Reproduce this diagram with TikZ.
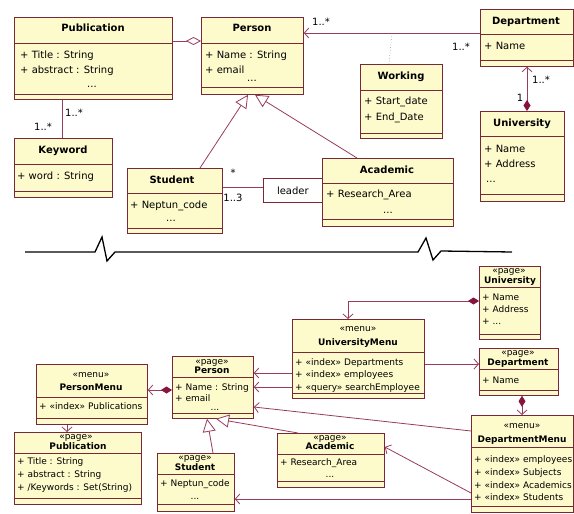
\documentclass[tikz,border=0pt]{standalone}
\usepackage{fontspec}
\setmainfont{DejaVu Sans}
\usetikzlibrary{arrows.meta}
\definecolor{boxfill}{RGB}{253,250,204}
\definecolor{boxline}{RGB}{120,40,55}
\definecolor{conncol}{RGB}{150,60,95}
\definecolor{diamcol}{RGB}{135,20,60}
\tikzset{
  clsbox/.style={draw=boxline, fill=boxfill, line width=0.8pt, inner sep=0pt, anchor=north west},
  divline/.style={draw=boxline, line width=0.8pt},
  ta/.style={anchor=west, inner sep=0pt, text height=7pt, text depth=2pt, font=\fontsize{10}{12}\selectfont},
  tc/.style={anchor=center, inner sep=0pt, text height=7pt, text depth=2pt, font=\fontsize{10}{12}\selectfont},
  tt/.style={anchor=center, inner sep=0pt, text height=7pt, text depth=2pt, font=\fontsize{10}{12}\selectfont\bfseries},
  ba/.style={anchor=west, inner sep=0pt, text height=6.5pt, text depth=2pt, font=\fontsize{9}{11}\selectfont},
  bc/.style={anchor=center, inner sep=0pt, text height=6.5pt, text depth=2pt, font=\fontsize{9}{11}\selectfont},
  bdots/.style={anchor=center, inner sep=0pt, text height=3pt, text depth=0pt, font=\fontsize{9}{11}\selectfont},
  bt/.style={anchor=center, inner sep=0pt, text height=6.5pt, text depth=2pt, font=\fontsize{9}{11}\selectfont\bfseries},
  lbl/.style={anchor=center, inner sep=0pt, font=\fontsize{10}{12}\selectfont},
  cline/.style={draw=conncol, line width=0.8pt},
  openarr/.style={-{Straight Barb[length=4.5pt,width=10pt]}},
  gen/.style={-{Triangle[open, fill=white, length=13pt, width=13pt]}},
  aggr/.style={-{Diamond[open, fill=white, length=15pt, width=8pt]}},
  compopen/.style={{Diamond[length=11pt,width=7pt,color=diamcol]}-{Straight Barb[length=4.5pt,width=10pt]}},
}
\newcommand\umlcls[7]{%
  \node[clsbox, minimum width={(#4-#2)*1pt}, minimum height={(#5-#3)*1pt}] (#1) at (#2,#3) {};
  \draw[divline] (#2,#6) -- (#4,#6);
  \draw[divline] (#2,#7) -- (#4,#7);}
\begin{document}
\begin{tikzpicture}[x=1pt, y=-1pt]
\fill[white] (0,0) rectangle (574,514);
\useasboundingbox (0,0) rectangle (574,514);

% ---------------- top diagram ----------------
\umlcls{pub}{14}{17}{172}{99}{43}{94}
\node[tt] (pubT) at (93,29) {Publication};
\node[ta] (pubA1) at (20,56) {+ Title : String};
\node[ta] (pubA2) at (20,71) {+ abstract : String};
\node[tc] (pubA3) at (92,85) {...};

\umlcls{per}{201}{17}{303}{94}{43}{87}
\node[tt] (perT) at (252,29) {Person};
\node[ta] (perA1) at (205,56) {+ Name : String};
\node[ta] (perA2) at (205,71) {+ email};
\node[tc] (perA3) at (252,79) {...};

\umlcls{kw}{14}{138}{112}{197}{164}{191}
\node[tt] (kwT) at (63,151) {Keyword};
\node[ta] (kwA1) at (17,177) {+ word : String};

\umlcls{stu}{127}{168}{222}{233}{193}{228}
\node[tt] (stuT) at (172,181) {Student};
\node[ta] (stuA1) at (130,206) {+ Neptun\_code};
\node[tc] (stuA2) at (171,219) {...};

\node[draw=boxline, fill=white, line width=0.8pt, anchor=north west, minimum width=59pt, minimum height=24pt, inner sep=0pt, font=\fontsize{10}{12}\selectfont] (lead) at (263,178) {leader};

\umlcls{aca}{322}{158}{453}{226}{183}{219}
\node[tt] (acaT) at (387,171) {Academic};
\node[ta] (acaA1) at (326,195) {+ Research\_Area};
\node[tc] (acaA2) at (388,211) {...};

\umlcls{wrk}{360}{64}{442}{138}{90}{133}
\node[tt] (wrkT) at (401,77) {Working};
\node[ta] (wrkA1) at (364,102) {+ Start\_date};
\node[ta] (wrkA2) at (364,118) {+ End\_Date};

\umlcls{dep}{480}{9}{573}{66}{34}{60}
\node[tt] (depT) at (526,22) {Department};
\node[ta] (depA1) at (484,47) {+ Name};

\umlcls{uni}{480}{111}{564}{201}{136}{194}
\node[tt] (uniT) at (522,124) {University};
\node[ta] (uniA1) at (484,150) {+ Name};
\node[ta] (uniA2) at (484,165) {+ Address};
\node[ta] (uniA3) at (486,180) {...};

% top connectors
\draw[cline, aggr] (pub.east |- 0,41) -- (per.west |- 0,41);
\draw[cline] (pub.south -| 62,0) -- (kw.north -| 62,0);
\node[lbl] (l1) at (74,113) {1..*};
\node[lbl] (l2) at (43,127) {1..*};
\draw[cline, gen] (stu.north -| 200,0) -- (per.south -| 248,0);
\draw[cline, gen] (aca.north -| 357,0) -- (per.south -| 255,0);
\draw[cline] (stu.east |- 0,187) -- (lead.west |- 0,187);
\node[lbl] (l3) at (233,173) {*};
\node[lbl] (l4) at (233,198) {1..3};
\draw[cline, openarr] (dep.west |- 0,33) -- (per.east |- 0,33);
\node[lbl] (l5) at (321,22) {1..*};
\node[lbl] (l6) at (461,47) {1..*};
\coordinate (wk) at (392,33);
\draw[gray!70, dotted, line width=0.7pt] (wrk.north -| 389,0) -- (wk);
\draw[cline, compopen] (uni.north -| 527,0) -- (dep.south -| 527,0);
\node[lbl] (l7) at (541,80) {1..*};
\node[lbl] (l8) at (520,98) {1};

% break line
\draw[black, line width=1.3pt, line join=miter] (25,252) -- (95,252) -- (102,237) -- (107,261) -- (115,252) -- (418,252) -- (426,238) -- (433,260) -- (441,251) -- (512,252);

% ---------------- bottom diagram ----------------
\umlcls{uni2}{479}{266}{540}{339}{287}{334}
\node[bc] (uni2S) at (509,271) {«page»};
\node[bt] (uni2T) at (510,281) {University};
\node[ba] (uni2A1) at (482,298) {+ Name};
\node[ba] (uni2A2) at (482,310) {+ Address};
\node[ba] (uni2A3) at (482,322) {+ ...};

\umlcls{um}{292}{319}{424}{398}{352}{393}
\node[bc] (umS) at (358,329) {«menu»};
\node[bt] (umT) at (358,343) {UniversityMenu};
\node[ba] (umA1) at (295,363) {+ «index» Departments};
\node[ba] (umA2) at (295,375) {+ «index» employees};
\node[ba] (umA3) at (295,388) {+ «query» searchEmployee};

\umlcls{dep2}{479}{348}{558}{395}{369}{390}
\node[bc] (dep2S) at (518,353) {«page»};
\node[bt] (dep2T) at (518,363) {Department};
\node[ba] (dep2A1) at (482,381) {+ Name};

\umlcls{dm}{471}{415}{573}{512}{447}{506}
\node[bc] (dmS) at (522,426) {«menu»};
\node[bt] (dmT) at (522,440) {DepartmentMenu};
\node[ba] (dmA1) at (474,460) {+ «index» employees};
\node[ba] (dmA2) at (474,473) {+ «index» Subjects};
\node[ba] (dmA3) at (474,486) {+ «index» Academics};
\node[ba] (dmA4) at (474,498) {+ «index» Students};

\umlcls{per2}{172}{356}{253}{418}{377}{413}
\node[bc] (per2S) at (212,362) {«page»};
\node[bt] (per2T) at (212,371) {Person};
\node[ba] (per2A1) at (175,388) {+ Name : String};
\node[ba] (per2A2) at (175,399) {+ email};
\node[bdots] (per2A3) at (215,409) {...};

\umlcls{pm}{36}{364}{147}{424}{397}{418}
\node[bc] (pmS) at (91,375) {«menu»};
\node[bt] (pmT) at (91,388) {PersonMenu};
\node[ba] (pmA1) at (39,407) {+ «index» Publications};

\umlcls{pub2}{14}{432}{141}{504}{453}{498}
\node[bc] (pub2S) at (76,437) {«page»};
\node[bt] (pub2T) at (78,447) {Publication};
\node[ba] (pub2A1) at (17,462) {+ Title : String};
\node[ba] (pub2A2) at (17,475) {+ abstract : String};
\node[ba] (pub2A3) at (17,488) {+ /Keywords : Set(String)};

\umlcls{aca2}{277}{433}{384}{487}{454}{481}
\node[bc] (aca2S) at (330,438) {«page»};
\node[bt] (aca2T) at (330,447) {Academic};
\node[ba] (aca2A1) at (280,463) {+ Research\_Area};
\node[bdots] (aca2A2) at (330,476) {...};

\umlcls{stu2}{157}{453}{234}{511}{474}{504}
\node[bc] (stu2S) at (195,458) {«page»};
\node[bt] (stu2T) at (195,468) {Student};
\node[ba] (stu2A1) at (160,484) {+ Neptun\_code};
\node[bdots] (stu2A2) at (195,498) {...};

% bottom connectors
\draw[cline, compopen] (uni2.west |- 0,301) -| (um.north -| 348,0);
\draw[cline, openarr] (um.west |- 0,373) -- (per2.east |- 0,373);
\draw[cline, openarr] (um.west |- 0,387) -- (per2.east |- 0,387);
\draw[cline, openarr] (um.east |- 0,364) -- (dep2.west |- 0,364);
\draw[cline, compopen] (dep2.south -| 522,0) -- (dm.north -| 522,0);
\draw[cline, openarr] (dm.west |- 0,431) -- (per2.east |- 0,407);
\draw[cline, openarr] (dm.west |- 0,493) -- (aca2.east |- 0,447);
\draw[cline, openarr] (dm.west |- 0,499) -- (stu2.east |- 0,499);
\draw[cline, compopen] (per2.west |- 0,390) -- (pm.east |- 0,390);
\draw[cline, openarr] (pm.south -| 67,0) -- (pub2.north -| 67,0);
\draw[cline, gen] (stu2.north -| 213,0) -- (per2.south -| 207,0);
\draw[cline, gen] (aca2.north -| 298,0) -- (per2.south -| 216,0);
\end{tikzpicture}
\end{document}
